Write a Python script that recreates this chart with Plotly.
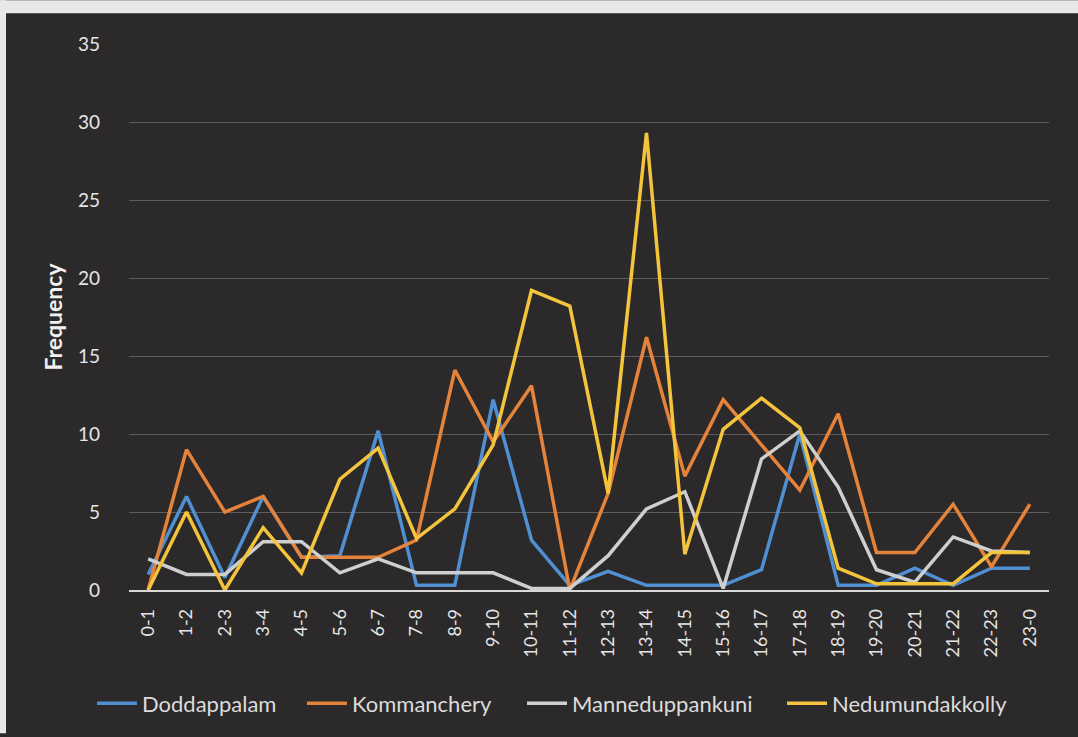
import plotly.graph_objects as go

# Hourly intervals
hours = ["0-1", "1-2", "2-3", "3-4", "4-5", "5-6", "6-7", "7-8", "8-9", "9-10",
         "10-11", "11-12", "12-13", "13-14", "14-15", "15-16", "16-17", "17-18",
         "18-19", "19-20", "20-21", "21-22", "22-23", "23-0"]

doddappalam = [1.0, 6.0, 0.8, 6.0, 2.1, 2.2, 10.2, 0.3, 0.3, 12.2, 3.2, 0.3,
               1.2, 0.3, 0.3, 0.3, 1.3, 10.0, 0.3, 0.3, 1.4, 0.3, 1.4, 1.4]
kommanchery = [0, 9.0, 5.0, 6.0, 2.1, 2.1, 2.1, 3.2, 14.1, 9.5, 13.1, 0,
               6.2, 16.2, 7.3, 12.2, 9.3, 6.4, 11.3, 2.4, 2.4, 5.5, 1.5, 5.5]
manneduppankuni = [2.0, 1.0, 1.0, 3.1, 3.1, 1.1, 2.0, 1.1, 1.1, 1.1, 0.1, 0.1,
                   2.2, 5.2, 6.3, 0.1, 8.4, 10.2, 6.6, 1.3, 0.5, 3.4, 2.5, 2.4]
nedumundakkolly = [0, 5.0, 0, 4.0, 1.1, 7.1, 9.1, 3.3, 5.2, 9.3, 19.2, 18.2,
                   6.2, 29.3, 2.3, 10.3, 12.3, 10.4, 1.4, 0.4, 0.4, 0.4, 2.4, 2.4]

series = [
    ("Doddappalam", doddappalam, "#4f8fd2"),
    ("Kommanchery", kommanchery, "#e5833a"),
    ("Manneduppankuni", manneduppankuni, "#cfcfcf"),
    ("Nedumundakkolly", nedumundakkolly, "#f3c43c"),
]

W, H = 1078, 737
ML, MR, MT, MB = 129, 29, 44, 144
PW, PH = W - ML - MR, H - MT - MB

# left edge (px) of each legend entry along the bottom row
legend_left_px = [92, 302, 522, 782]


def px_x(px):
    return (px - ML) / PW


def px_y(py):
    return (H - MB - py) / PH


fig = go.Figure()
legend_layouts = {}
for i, (name, vals, color) in enumerate(series):
    key = "legend" if i == 0 else f"legend{i + 1}"
    fig.add_trace(go.Scatter(
        x=hours, y=vals, name=name, mode="lines",
        line=dict(color=color, width=3.5),
        legend=key,
    ))
    legend_layouts[key] = dict(
        orientation="h",
        x=px_x(legend_left_px[i]), xanchor="left",
        y=px_y(686), yanchor="top",
        font=dict(size=22, color="#dcdcdc"),
        bgcolor="rgba(0,0,0,0)",
        itemwidth=40,
    )

bg = "#2b2929"
font_family = "Lato, 'Open Sans', sans-serif"

fig.update_layout(
    width=W, height=H,
    margin=dict(l=ML, r=MR, t=MT, b=MB),
    paper_bgcolor=bg,
    plot_bgcolor=bg,
    font=dict(family=font_family, color="#e6e6e6", size=16),
    showlegend=True,
    xaxis=dict(
        type="category",
        range=[-0.5, len(hours) - 0.5],
        tickangle=-90,
        showgrid=False,
        showline=True, linecolor="#d9d9d9", linewidth=1.5,
        ticks="",
        ticklabelstandoff=10,
        tickfont=dict(size=18, color="#e6e6e6"),
        zeroline=False,
    ),
    yaxis=dict(
        range=[0, 35],
        dtick=5,
        showgrid=True, gridcolor="#5e5c5c", gridwidth=1,
        zeroline=False,
        showline=False,
        ticks="",
        ticklabelstandoff=28,
        tickfont=dict(size=19, color="#e6e6e6"),
        title=dict(text="<b>Frequency</b>", font=dict(size=23, color="#f0f0f0"), standoff=8),
    ),
    shapes=[
        # light frame along the top and left edges
        dict(type="rect", xref="paper", yref="paper",
             x0=px_x(0), x1=px_x(W), y0=px_y(13), y1=px_y(0),
             fillcolor="#e9e7ea", line=dict(width=0), layer="above"),
        dict(type="rect", xref="paper", yref="paper",
             x0=px_x(0), x1=px_x(6), y0=px_y(H), y1=px_y(0),
             fillcolor="#e9e7ea", line=dict(width=0), layer="above"),
    ],
    **legend_layouts,
)

fig.write_html("out.html")
